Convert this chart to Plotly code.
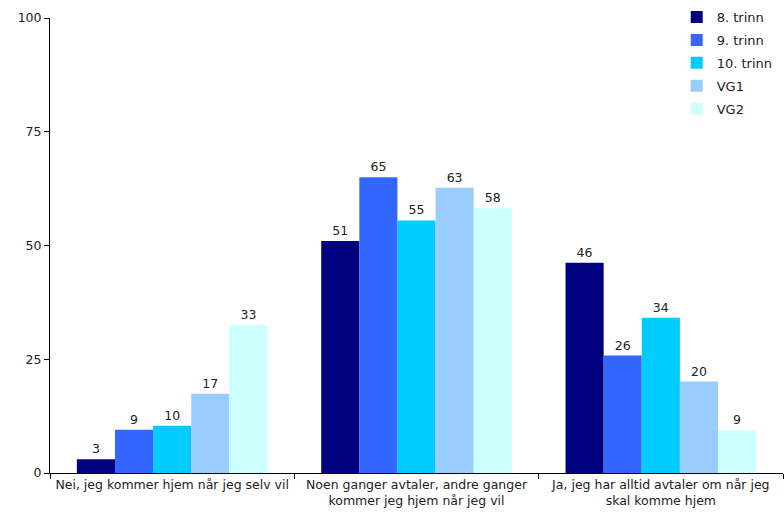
import plotly.graph_objects as go

categories = [
    "Nei, jeg kommer hjem når jeg selv vil",
    "Noen ganger avtaler, andre ganger<br>kommer jeg hjem når jeg vil",
    "Ja, jeg har alltid avtaler om når jeg<br>skal komme hjem",
]
series_names = ["8. trinn", "9. trinn", "10. trinn", "VG1", "VG2"]
values_8 = [3.0, 51.0, 46.2]
values_9 = [9.5, 65.0, 25.8]
values_10 = [10.4, 55.5, 34.1]
values_vg1 = [17.4, 62.7, 20.1]
values_vg2 = [32.6, 58.3, 9.4]
labels_8 = ["3", "51", "46"]
labels_9 = ["9", "65", "26"]
labels_10 = ["10", "55", "34"]
labels_vg1 = ["17", "63", "20"]
labels_vg2 = ["33", "58", "9"]
y_ticks = [0, 25, 50, 75, 100]

colors = ["#000080", "#3366FF", "#00CCFF", "#99CCFF", "#CCFFFF"]
all_values = [values_8, values_9, values_10, values_vg1, values_vg2]
all_labels = [labels_8, labels_9, labels_10, labels_vg1, labels_vg2]

font_family = "DejaVu Sans, Verdana, sans-serif"

fig = go.Figure()
for name, vals, labs, col in zip(series_names, all_values, all_labels, colors):
    fig.add_trace(go.Bar(
        x=categories, y=vals, name=name, marker_color=col,
        marker_line_width=0, legendgroup=name,
        text=labs, textposition="outside", cliponaxis=False,
        textfont=dict(size=12.5, color="#222222", family=font_family),
    ))

fig.update_layout(
    width=784, height=520,
    margin=dict(l=50, r=1, t=18, b=47, autoexpand=False),
    plot_bgcolor="white", paper_bgcolor="white",
    barmode="group", bargap=0.22, bargroupgap=0,
    font=dict(family=font_family, size=12.5, color="#222222"),
    showlegend=True,
    legend=dict(x=0.855, xanchor="left", y=1.035, yanchor="top",
                font=dict(size=13, family=font_family, color="#222222"),
                bgcolor="rgba(0,0,0,0)", itemwidth=30, tracegroupgap=3),
    yaxis=dict(range=[0, 100], tickvals=y_ticks, showgrid=False,
               showline=True, linecolor="black", linewidth=1,
               ticks="outside", ticklen=5, tickcolor="black",
               zeroline=False, tickfont=dict(size=12.5), automargin=False),
    xaxis=dict(showgrid=False, showline=True, linecolor="black", linewidth=1,
               ticks="outside", tickson="boundaries", ticklen=5, tickcolor="black",
               tickfont=dict(size=12.5), automargin=False),
)

fig.write_html("out.html", config={"displayModeBar": False},
               post_script="document.body.style.margin='0px';")
